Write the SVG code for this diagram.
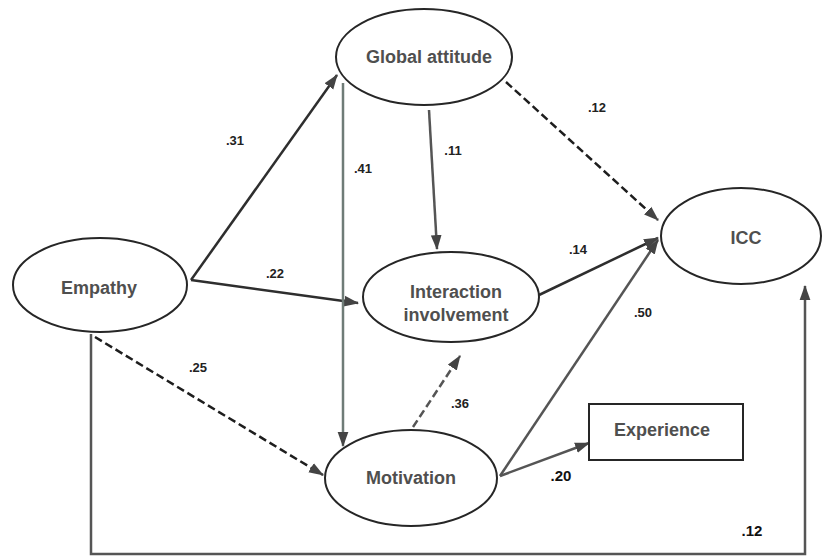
<svg xmlns="http://www.w3.org/2000/svg" width="826" height="559" viewBox="0 0 826 559">
<style>
.node ellipse, .node rect { fill: #ffffff; stroke: #262626; stroke-width: 2; }
.lbl { font-family: "Liberation Sans", Arial, sans-serif; font-weight: bold; font-size: 18px; fill: #4f4f4f; text-anchor: middle; }
.num { font-family: "Liberation Sans", Arial, sans-serif; font-weight: bold; font-size: 13px; fill: #222; text-anchor: middle; }
.num2 { font-family: "Liberation Sans", Arial, sans-serif; font-weight: bold; font-size: 15px; fill: #111; text-anchor: middle; }
.c { fill: none; stroke: #2e2e2e; stroke-width: 2.5; marker-end: url(#ah); }
.d { stroke-dasharray: 8 4; stroke: #1e1e1e; }
.g { stroke: #555; }
.gr { stroke: #6f7c77; }
</style>
<defs>
<marker id="ah" viewBox="0 0 14 10" refX="13" refY="5" markerWidth="15" markerHeight="12" markerUnits="userSpaceOnUse" orient="auto">
<path d="M0,0 L14,5 L0,10 z" fill="#444"/>
</marker>
</defs>
<rect width="826" height="559" fill="#ffffff"/>
<g id="connectors">
<path class="c" d="M191,280 L337,75"/>
<path class="c" d="M191,280 L358,303"/>
<path class="c d" d="M95,337 L323,475"/>
<path class="c g" d="M91,334 V554 H805 V286"/>
<path class="c gr" d="M343,83 V446"/>
<path class="c g" d="M429,110 L437,249"/>
<path class="c d" d="M506,82 L658,220"/>
<path class="c" d="M539,295 L658,238"/>
<path class="c g" d="M500,476 L658,240"/>
<path class="c d g" d="M413,427 L460,356"/>
<path class="c g" d="M500,476 L589,443"/>
</g>
<g id="labels">
<text class="num" x="235" y="145">.31</text>
<text class="num" x="363" y="173">.41</text>
<text class="num" x="453" y="155">.11</text>
<text class="num" x="597" y="112">.12</text>
<text class="num" x="275" y="278">.22</text>
<text class="num" x="578" y="254">.14</text>
<text class="num" x="198" y="372">.25</text>
<text class="num" x="643" y="317">.50</text>
<text class="num" x="460" y="408">.36</text>
<text class="num2" x="561" y="481">.20</text>
<text class="num2" x="752" y="536">.12</text>
</g>
<g id="global-attitude" class="node">
<ellipse cx="424" cy="57" rx="88" ry="48"/>
<text class="lbl" x="429" y="63">Global attitude</text>
</g>
<g id="empathy" class="node">
<ellipse cx="100" cy="285" rx="87" ry="47"/>
<text class="lbl" x="99" y="294">Empathy</text>
</g>
<g id="icc" class="node">
<ellipse cx="741" cy="236" rx="80" ry="48"/>
<text class="lbl" x="746" y="244">ICC</text>
</g>
<g id="interaction-involvement" class="node">
<ellipse cx="451" cy="297" rx="88" ry="45"/>
<text class="lbl" x="456" y="298">Interaction</text>
<text class="lbl" x="456" y="321">involvement</text>
</g>
<g id="motivation" class="node">
<ellipse cx="411" cy="478" rx="86" ry="48"/>
<text class="lbl" x="411" y="484">Motivation</text>
</g>
<g id="experience" class="node">
<rect x="589" y="404" width="154" height="56"/>
<text class="lbl" x="662" y="436">Experience</text>
</g>
</svg>
